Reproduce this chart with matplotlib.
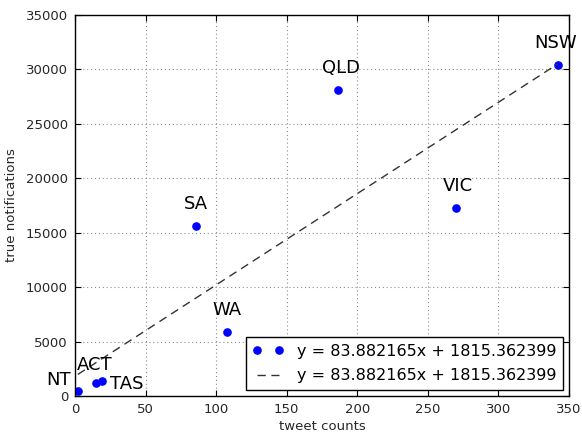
import matplotlib
matplotlib.use("Agg")
import matplotlib.pyplot as plt
import numpy as np

states = ["NT", "ACT", "TAS", "WA", "SA", "QLD", "VIC", "NSW"]
tweet_counts = [2, 15, 19, 108, 86, 186, 270, 342]
true_notifications = [500, 1170, 1380, 5850, 15640, 28110, 17240, 30400]
slope = 83.882165
intercept = 1815.362399
x_ticks = [0, 50, 100, 150, 200, 250, 300, 350]
y_ticks = [0, 5000, 10000, 15000, 20000, 25000, 30000, 35000]

# label offsets in pixels (dx, dy, ha)
label_offsets = {
    "NT": (-7, 6, "right"),
    "ACT": (-1, 13, "center"),
    "TAS": (8, -8, "left"),
    "WA": (0, 17, "center"),
    "SA": (0, 17, "center"),
    "QLD": (3, 17, "center"),
    "VIC": (2, 17, "center"),
    "NSW": (-2, 17, "center"),
}

plt.rcParams["font.family"] = ["DejaVu Sans"]
fig = plt.figure(figsize=(5.82, 4.36), dpi=100)
ax = fig.add_axes([75/582, 1-396/436, (569-75)/582, (396-15)/436])

label = "y = %fx + %f" % (slope, intercept)
ax.plot(tweet_counts, true_notifications, "o", color=(0, 0, 1), markeredgecolor=(0, 0, 1),
        markersize=5.2, linestyle="none", label=label)
xs = np.array([min(tweet_counts), max(tweet_counts)])
ax.plot(xs, slope * xs + intercept, "--", color="0.2", linewidth=1.0, dashes=(6, 4), label=label)

for s, x, y in zip(states, tweet_counts, true_notifications):
    dx, dy, ha = label_offsets[s]
    ax.annotate(s, (x, y), xytext=(dx, dy), textcoords="offset pixels",
                ha=ha, va="baseline", fontsize=13)

ax.set_xlim(0, 350)
ax.set_ylim(0, 35000)
ax.set_xticks(x_ticks)
ax.set_yticks(y_ticks)
ax.tick_params(direction="in", top=True, right=True, length=4, width=0.8,
               labelsize=9.5, pad=5, labelcolor="0.15")
ax.grid(True, color="0.55", linewidth=0.8, dashes=(1, 2.5))
for sp in ax.spines.values():
    sp.set_linewidth(1.0)
ax.set_xlabel("tweet counts", fontsize=9.5, labelpad=3, color="0.15")
ax.set_ylabel("true notifications", fontsize=9.5, labelpad=6, color="0.15")

leg = ax.legend(loc="lower right", numpoints=2, fontsize=11.5, fancybox=False,
                frameon=True, borderaxespad=0.4, handlelength=2.0, handletextpad=0.8,
                labelspacing=0.6, borderpad=0.4)
leg.get_frame().set_edgecolor("k")
leg.get_frame().set_linewidth(1.0)
leg.get_frame().set_alpha(1.0)

fig.savefig("out.png", dpi=100, facecolor="white")
